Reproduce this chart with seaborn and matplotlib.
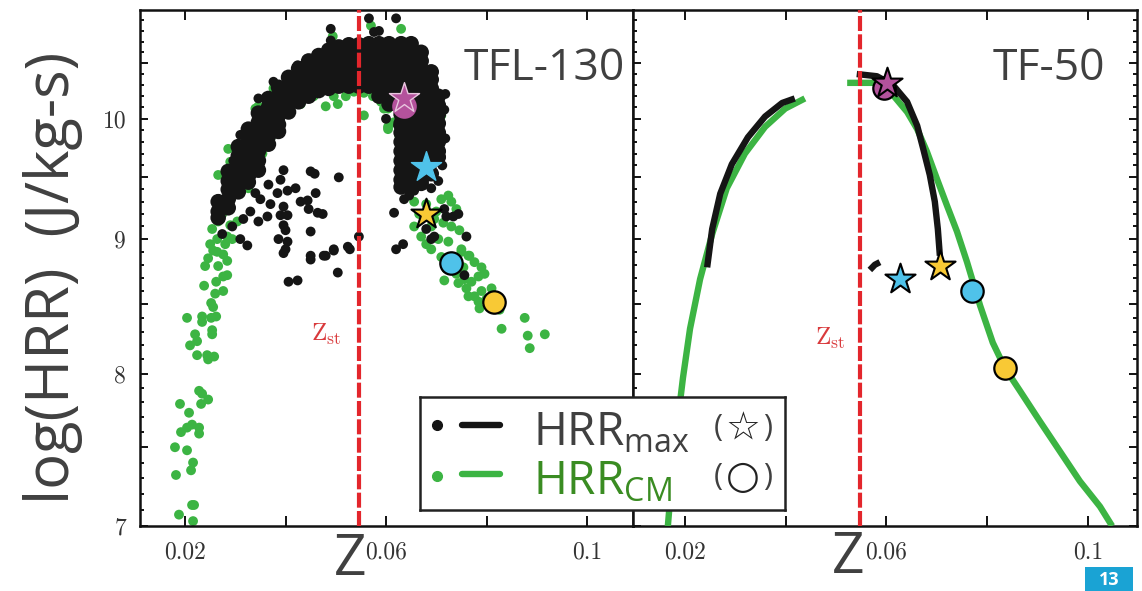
import numpy as np
import matplotlib
matplotlib.use("Agg")
import matplotlib.pyplot as plt
import seaborn as sns
from matplotlib.ticker import FixedLocator, FixedFormatter, NullFormatter
from matplotlib.patches import Rectangle

# ---------------------------------------------------------------- data
z_st = 0.0547

# TFL-130: dense black cloud, given as columns (Z value, list of log(HRR) values)
core_col_z = [0.0266, 0.0286, 0.0306, 0.0326, 0.0346, 0.0366, 0.0386, 0.0406,
              0.0426, 0.0446, 0.0466, 0.0486, 0.0506, 0.0526, 0.0546, 0.0566,
              0.0586, 0.0606, 0.0630, 0.0650, 0.0670, 0.0690, 0.0704]
core_col_hrr = [
    [9.30, 9.22, 9.17],
    [9.55, 9.47, 9.40, 9.32, 9.25],
    [9.76, 9.68, 9.61, 9.53, 9.45, 9.38],
    [9.91, 9.84, 9.76, 9.67, 9.59, 9.51, 9.46],
    [10.05, 9.97, 9.89, 9.81, 9.72, 9.64, 9.56],
    [10.18, 10.10, 10.02, 9.93, 9.85, 9.78],
    [10.28, 10.20, 10.11, 10.03, 9.95, 9.89],
    [10.37, 10.29, 10.20, 10.12, 10.06],
    [10.45, 10.37, 10.29, 10.21, 10.15],
    [10.52, 10.44, 10.36, 10.28, 10.20],
    [10.57, 10.49, 10.41, 10.33, 10.25],
    [10.62, 10.55, 10.47, 10.39, 10.32, 10.27],
    [10.65, 10.58, 10.50, 10.42, 10.34, 10.29],
    [10.67, 10.59, 10.51, 10.43, 10.35, 10.29],
    [10.67, 10.59, 10.51, 10.43, 10.35, 10.29],
    [10.68, 10.60, 10.52, 10.44, 10.36, 10.29],
    [10.68, 10.60, 10.52, 10.44, 10.36, 10.28, 10.20],
    [10.68, 10.60, 10.52, 10.44, 10.36, 10.28, 10.20, 10.13],
    [10.68, 10.60, 10.52, 10.44, 10.36, 10.28, 10.20, 10.12, 10.04, 9.96, 9.88,
     9.80, 9.72, 9.64, 9.56, 9.48, 9.42],
    [10.68, 10.60, 10.52, 10.44, 10.36, 10.28, 10.20, 10.12, 10.04, 9.96, 9.88,
     9.80, 9.72, 9.64, 9.56, 9.48, 9.42],
    [10.60, 10.52, 10.44, 10.36, 10.28, 10.20, 10.12, 10.04, 9.96, 9.88, 9.80,
     9.72, 9.64, 9.56, 9.48, 9.45],
    [10.42, 10.35, 10.27, 10.19, 10.11, 10.03, 9.95, 9.87, 9.79, 9.71, 9.63, 9.53],
    [10.20, 10.12, 10.04, 9.96, 9.88, 9.80, 9.72, 9.67],
]

# TFL-130: scattered black points
black_pts_z = [0.0396, 0.0406, 0.0424, 0.0450, 0.0480, 0.0496, 0.0504, 0.0528,
               0.0450, 0.0458, 0.0506, 0.0396, 0.0390, 0.0366, 0.0384, 0.0404,
               0.0430, 0.0444, 0.0460, 0.0446, 0.0464, 0.0474, 0.0364, 0.0390,
               0.0404, 0.0396, 0.0346, 0.0330, 0.0316, 0.0396, 0.0400, 0.0450,
               0.0386, 0.0404, 0.0310, 0.0324, 0.0400, 0.0496, 0.0524, 0.0546,
               0.0450, 0.0476, 0.0270, 0.0274, 0.0370, 0.0350, 0.0420, 0.0340,
               0.0294, 0.0286,
               0.0616, 0.0620, 0.0634, 0.0690, 0.0696, 0.0760, 0.0734, 0.0744,
               0.0720, 0.0636, 0.0646, 0.0656, 0.0674, 0.0690, 0.0704, 0.0680,
               0.0716, 0.0756,
               0.0490, 0.0490, 0.0566, 0.0576, 0.0586, 0.0620,
               0.0718, 0.0718, 0.0600, 0.0624, 0.0636,
               0.0310, 0.0346, 0.0376, 0.0424, 0.0296, 0.0716, 0.0712]
black_pts_hrr = [8.89, 8.67, 8.68, 8.84, 8.87, 8.91, 8.74, 8.92,
                 9.55, 9.53, 9.50, 9.56, 9.48, 9.44, 9.37, 9.39,
                 9.30, 9.31, 9.37, 9.24, 9.21, 9.20, 9.18, 9.19,
                 9.19, 9.26, 9.14, 9.22, 9.16, 9.11, 9.07, 9.06,
                 9.00, 8.98, 9.00, 8.95, 8.92, 8.92, 8.94, 9.02,
                 8.87, 8.87, 9.16, 9.04, 9.28, 9.32, 9.41, 9.37,
                 9.10, 9.24,
                 9.21, 8.92, 8.96, 9.00, 9.02, 9.02, 9.18, 9.20,
                 9.18, 9.32, 9.35, 9.39, 9.44, 9.41, 9.47, 9.08,
                 9.24, 8.72,
                 10.82, 10.71, 10.92, 10.79, 10.80, 10.92,
                 10.22, 9.83, 10.00, 9.94, 9.74,
                 9.86, 10.18, 10.33, 10.48, 9.64, 10.08, 9.60]

# TFL-130: green points
green_pts_z = [0.0264, 0.0276, 0.0284, 0.0266, 0.0240, 0.0276, 0.0284, 0.0262,
               0.0238, 0.0276, 0.0260, 0.0252, 0.0256, 0.0262, 0.0252, 0.0234,
               0.0234, 0.0204, 0.0254, 0.0254, 0.0220, 0.0224, 0.0210, 0.0224,
               0.0244, 0.0258, 0.0246, 0.0228, 0.0234, 0.0246, 0.0232, 0.0190,
               0.0208, 0.0214, 0.0204, 0.0228, 0.0228, 0.0192, 0.0180, 0.0204,
               0.0216, 0.0212, 0.0182, 0.0214, 0.0218, 0.0188, 0.0216,
               0.0266, 0.0290, 0.0286, 0.0304, 0.0340, 0.0346, 0.0376, 0.0380,
               0.0284, 0.0266, 0.0284, 0.0266, 0.0290, 0.0304, 0.0264, 0.0256,
               0.0284, 0.0250, 0.0274, 0.0254, 0.0246, 0.0280, 0.0294,
               0.0456, 0.0480, 0.0496, 0.0504, 0.0536, 0.0556, 0.0556, 0.0604,
               0.0604, 0.0430, 0.0410, 0.0390, 0.0370, 0.0354, 0.0340, 0.0326,
               0.0520, 0.0574, 0.0590,
               0.0570, 0.0494, 0.0630,
               0.0596, 0.0604, 0.0616, 0.0626, 0.0690, 0.0710, 0.0630, 0.0644,
               0.0654, 0.0636, 0.0656, 0.0710, 0.0724, 0.0730, 0.0740, 0.0700,
               0.0714, 0.0730, 0.0746, 0.0704, 0.0724, 0.0750, 0.0764, 0.0690,
               0.0670, 0.0656, 0.0690, 0.0716, 0.0744, 0.0756, 0.0770, 0.0784,
               0.0796, 0.0790, 0.0776, 0.0766, 0.0750, 0.0764, 0.0776, 0.0790,
               0.0810, 0.0786, 0.0784, 0.0826, 0.0876, 0.0830, 0.0882, 0.0916,
               0.0886, 0.0734, 0.0720, 0.0740, 0.0760, 0.0800, 0.0810, 0.0754,
               0.0710, 0.0680, 0.0666, 0.0680, 0.0696]
green_pts_hrr = [8.90, 8.88, 8.83, 8.79, 8.79, 8.71, 8.72, 8.67,
                 8.64, 8.60, 8.58, 8.51, 8.48, 8.41, 8.40, 8.41,
                 8.37, 8.40, 8.31, 8.28, 8.28, 8.23, 8.20, 8.13,
                 8.13, 8.12, 8.10, 7.88, 7.86, 7.82, 7.79, 7.79,
                 7.73, 7.65, 7.63, 7.63, 7.59, 7.60, 7.50, 7.48,
                 7.40, 7.35, 7.32, 7.13, 7.13, 7.07, 7.03,
                 9.52, 9.63, 9.74, 9.74, 10.09, 10.11, 10.27, 10.24,
                 9.45, 9.32, 9.27, 9.14, 9.11, 9.14, 9.00, 8.91,
                 9.02, 8.96, 9.20, 9.08, 8.85, 8.96, 9.00,
                 10.20, 10.11, 10.20, 10.13, 10.24, 10.23, 10.03, 9.91,
                 10.09, 10.13, 10.07, 9.96, 9.83, 9.70, 9.57, 9.41,
                 10.20, 10.20, 10.15,
                 10.85, 10.75, 10.82,
                 10.09, 9.93, 9.97, 9.86, 10.11, 10.03, 9.57, 9.53,
                 9.48, 9.41, 9.30, 9.32, 9.35, 9.30, 9.24, 9.22,
                 9.13, 9.10, 9.07, 9.00, 8.98, 8.92, 8.87, 8.92,
                 9.02, 9.10, 9.10, 8.68, 8.66, 8.69, 8.67, 8.71,
                 8.73, 8.78, 8.82, 8.87, 8.90, 8.56, 8.56, 8.60,
                 8.62, 8.47, 8.52, 8.46, 8.40, 8.32, 8.27, 8.28,
                 8.18, 8.84, 8.77, 8.73, 8.62, 8.54, 8.51, 8.78,
                 8.86, 8.96, 9.20, 9.28, 9.16]

# TFL-130 highlighted points
tfl_star_z = [0.0636, 0.0680, 0.0680]
tfl_star_hrr = [10.18, 9.59, 9.20]
tfl_circle_z = [0.0636, 0.0730, 0.0814]
tfl_circle_hrr = [10.11, 8.81, 8.52]

# TF-50 curves
tf_black_a_z = [0.0244, 0.0254, 0.0270, 0.0293, 0.0325, 0.0359, 0.0393, 0.0418]
tf_black_a_hrr = [8.78, 9.08, 9.365, 9.61, 9.84, 10.02, 10.14, 10.18]
tf_black_b_z = [0.0541, 0.0581, 0.0613, 0.0641, 0.0661, 0.0673, 0.0686, 0.0696,
                0.0702, 0.0706]
tf_black_b_hrr = [10.40, 10.38, 10.30, 10.15, 9.94, 9.74, 9.52, 9.30, 9.08, 8.87]
tf_black_c_z = [0.0567, 0.0577, 0.0587]
tf_black_c_hrr = [8.76, 8.80, 8.82]
tf_green_a_z = [0.0166, 0.0174, 0.0184, 0.0196, 0.0210, 0.0230, 0.0254, 0.0283,
                0.0319, 0.0359, 0.0399, 0.0438]
tf_green_a_hrr = [7.00, 7.30, 7.63, 7.97, 8.32, 8.69, 9.04, 9.41, 9.70, 9.93,
                  10.09, 10.18]
tf_green_b_z = [0.0522, 0.0581, 0.0613, 0.0641, 0.0661, 0.0680, 0.0700, 0.0720,
                0.0740, 0.0760, 0.0786, 0.0811, 0.0835, 0.0865, 0.0905, 0.0945,
                0.0984, 0.1024, 0.1048]
tf_green_b_hrr = [10.32, 10.32, 10.21, 10.06, 9.91, 9.72, 9.49, 9.27, 9.06, 8.82,
                  8.49, 8.22, 8.04, 7.88, 7.67, 7.47, 7.28, 7.12, 7.00]
tf_star_z = [0.0601, 0.0627, 0.0706]
tf_star_hrr = [10.32, 8.69, 8.79]
tf_circle_z = [0.0595, 0.0770, 0.0835]
tf_circle_hrr = [10.27, 8.60, 8.04]

marker_colors = ["#b4529c", "#4fc2ea", "#f8c935"]   # pink, blue, yellow

panel_titles = ["TFL-130", "TF-50"]
x_ticks = [0.02, 0.04, 0.06, 0.08, 0.10]
x_tick_labels = ["0.02", "", "0.06", "", "0.1"]
y_major = [7, 7.5, 8, 8.5, 9, 9.5, 10, 10.5]
y_major_labels = ["7", "", "8", "", "9", "", "10", ""]
y_minor = [round(7 + 0.1 * k, 1) for k in range(1, 40) if k % 5 != 0]

# ---------------------------------------------------------------- style
sns.set_theme(style="ticks")
plt.rcParams["font.family"] = ["Open Sans", "DejaVu Sans"]
plt.rcParams["mathtext.default"] = "regular"

BLACK = "#151515"
GREEN = "#3cb443"
RED = "#e3262c"
TXT = "#404040"

W, H = 1142, 591
fig = plt.figure(figsize=(W / 100, H / 100), dpi=100)
fig.patch.set_facecolor("white")

ax1 = fig.add_axes([140 / W, 1 - 526 / H, (633 - 140) / W, (526 - 10) / H])
ax2 = fig.add_axes([633 / W, 1 - 526 / H, (1137 - 633) / W, (526 - 10) / H])

core_z = [z for z, col in zip(core_col_z, core_col_hrr) for _ in col]
core_h = [h for col in core_col_hrr for h in col]

# ---- left panel: TFL-130 scatter
sns.scatterplot(x=green_pts_z, y=green_pts_hrr, ax=ax1, color=GREEN, s=50,
                edgecolor="none", linewidth=0, zorder=2)
sns.scatterplot(x=core_z, y=core_h, ax=ax1, color=BLACK, s=125,
                edgecolor="none", linewidth=0, zorder=3)
sns.scatterplot(x=black_pts_z, y=black_pts_hrr, ax=ax1, color=BLACK, s=50,
                edgecolor="none", linewidth=0, zorder=3)

left_star_edges = ["#e9c6df", "#4fc2ea", "black"]
left_circle_edges = ["#b4529c", "black", "black"]
for i in range(3):
    sns.scatterplot(x=[tfl_circle_z[i]], y=[tfl_circle_hrr[i]], ax=ax1, marker="o",
                    s=260, color=marker_colors[i], edgecolor=left_circle_edges[i],
                    linewidth=1.6, zorder=5)
for i in range(3):
    sns.scatterplot(x=[tfl_star_z[i]], y=[tfl_star_hrr[i]], ax=ax1, marker="*",
                    s=520, color=marker_colors[i], edgecolor=left_star_edges[i],
                    linewidth=1.0 if i < 2 else 1.5, zorder=6)

# ---- right panel: TF-50 curves
for zs, hs, col in [(tf_green_a_z, tf_green_a_hrr, GREEN),
                    (tf_green_b_z, tf_green_b_hrr, GREEN),
                    (tf_black_a_z, tf_black_a_hrr, BLACK),
                    (tf_black_b_z, tf_black_b_hrr, BLACK),
                    (tf_black_c_z, tf_black_c_hrr, BLACK)]:
    sns.lineplot(x=zs, y=hs, ax=ax2, color=col, linewidth=4.6, sort=False,
                 estimator=None, legend=False, solid_capstyle="butt", zorder=3)

for i in range(3):
    sns.scatterplot(x=[tf_circle_z[i]], y=[tf_circle_hrr[i]], ax=ax2, marker="o",
                    s=260, color=marker_colors[i], edgecolor="black",
                    linewidth=1.6, zorder=5)
for i in range(3):
    sns.scatterplot(x=[tf_star_z[i]], y=[tf_star_hrr[i]], ax=ax2, marker="*",
                    s=520, color=marker_colors[i], edgecolor="black",
                    linewidth=1.5, zorder=6)

# ---- common axis formatting
for ax, title, xlim, title_x, zst_xy in [
        (ax1, panel_titles[0], (0.01104, 0.10915), 0.984, (0.0481, 8.28)),
        (ax2, panel_titles[1], (0.00968, 0.10974), 0.9365, (0.0488, 8.25))]:
    ax.set_yscale("log")
    ax.set_xlim(*xlim)
    ax.set_ylim(7, 11)
    ax.axvline(z_st, color=RED, linewidth=3.0, linestyle=(0, (3.6, 0.8)), zorder=4)
    ax.text(zst_xy[0], zst_xy[1], r"$\mathrm{Z}_{\mathrm{st}}$", color="#d93a3c",
            fontsize=18, ha="center", va="center", math_fontfamily="cm", zorder=4)
    ax.text(title_x, 0.864, title, transform=ax.transAxes, ha="right",
            va="baseline", fontsize=32, color=TXT, family="Open Sans", zorder=7)
    ax.xaxis.set_major_locator(FixedLocator(x_ticks))
    ax.xaxis.set_major_formatter(FixedFormatter(x_tick_labels))
    ax.xaxis.set_minor_locator(FixedLocator([]))
    ax.yaxis.set_major_locator(FixedLocator(y_major))
    ax.yaxis.set_minor_locator(FixedLocator(y_minor))
    ax.yaxis.set_minor_formatter(NullFormatter())
    ax.set_xlabel("")
    ax.set_ylabel("")
    for sp in ax.spines.values():
        sp.set_visible(True)
        sp.set_linewidth(1.8)
        sp.set_color("#111111")
    ax.set_facecolor("white")

ax1.yaxis.set_major_formatter(FixedFormatter(y_major_labels))
ax2.yaxis.set_major_formatter(NullFormatter())

ax1.tick_params(axis="both", which="both", direction="in", top=True, bottom=True,
                left=True, right=False, color="#111111", width=1.4)
ax2.tick_params(axis="both", which="both", direction="in", top=True, bottom=True,
                left=True, right=True, color="#111111", width=1.4)
for ax in (ax1, ax2):
    ax.tick_params(axis="x", which="major", length=7, pad=11)
    ax.tick_params(axis="y", which="major", length=6, pad=10)
    ax.tick_params(axis="y", which="minor", length=3)
    for lab in ax.get_xticklabels() + ax.get_yticklabels():
        lab.set_fontfamily("cmr10")
        lab.set_fontsize(17)
        lab.set_color("#333333")

# ---- big axis labels
fig.text(0.046, 0.53, "log(HRR)  (J/kg-s)", rotation=90, ha="center", va="center",
         fontsize=43, color=TXT, family="Open Sans")
fig.text(350 / W, 2 / H, "Z", ha="center", va="bottom", fontsize=41,
         color=TXT, family="Open Sans")
fig.text(848 / W, 4 / H, "Z", ha="center", va="bottom", fontsize=41,
         color=TXT, family="Open Sans")

# ---- legend box (spans both panels)
lax = fig.add_axes([420 / W, 1 - 510 / H, 365 / W, 113 / H])
lax.set_xlim(0, 1)
lax.set_ylim(0, 1)
lax.set_xticks([])
lax.set_yticks([])
lax.set_facecolor("white")
for sp in lax.spines.values():
    sp.set_linewidth(1.8)
    sp.set_color("#222222")
lax.plot([0.047], [0.752], "o", color=BLACK, markersize=7)
lax.plot([0.115, 0.219], [0.752, 0.752], color=BLACK, linewidth=4.6)
lax.plot([0.047], [0.30], "o", color=GREEN, markersize=7)
lax.plot([0.115, 0.219], [0.315, 0.315], color=GREEN, linewidth=4.6)
lax.text(0.31, 0.575, r"HRR$_{max}$", fontsize=33, color=TXT, ha="left",
         va="baseline", family="Open Sans")
lax.text(0.31, 0.133, r"HRR$_{CM}$", fontsize=33, color="#3a8c22", ha="left",
         va="baseline", family="Open Sans")
for yy, sym in [(0.726, "☆"), (0.29, "○")]:
    lax.text(0.816, yy, "(", fontsize=22, color=TXT, ha="center", va="center",
             family=["Open Sans", "DejaVu Sans"])
    lax.text(0.885, yy, sym, fontsize=28, color="#222222", ha="center", va="center",
             family=["DejaVu Sans"], fontweight="bold")
    lax.text(0.953, yy, ")", fontsize=22, color=TXT, ha="center", va="center",
             family=["Open Sans", "DejaVu Sans"])

# ---- page number badge
fig.patches.append(Rectangle((1085 / W, 0), 48 / W, 24 / H, transform=fig.transFigure,
                             facecolor="#1aa3d4", edgecolor="none", zorder=10))
fig.text(1109 / W, 11 / H, "13", ha="center", va="center", fontsize=13,
         color="white", fontweight="bold", zorder=11)

fig.savefig("out.png", dpi=100, facecolor="white")
